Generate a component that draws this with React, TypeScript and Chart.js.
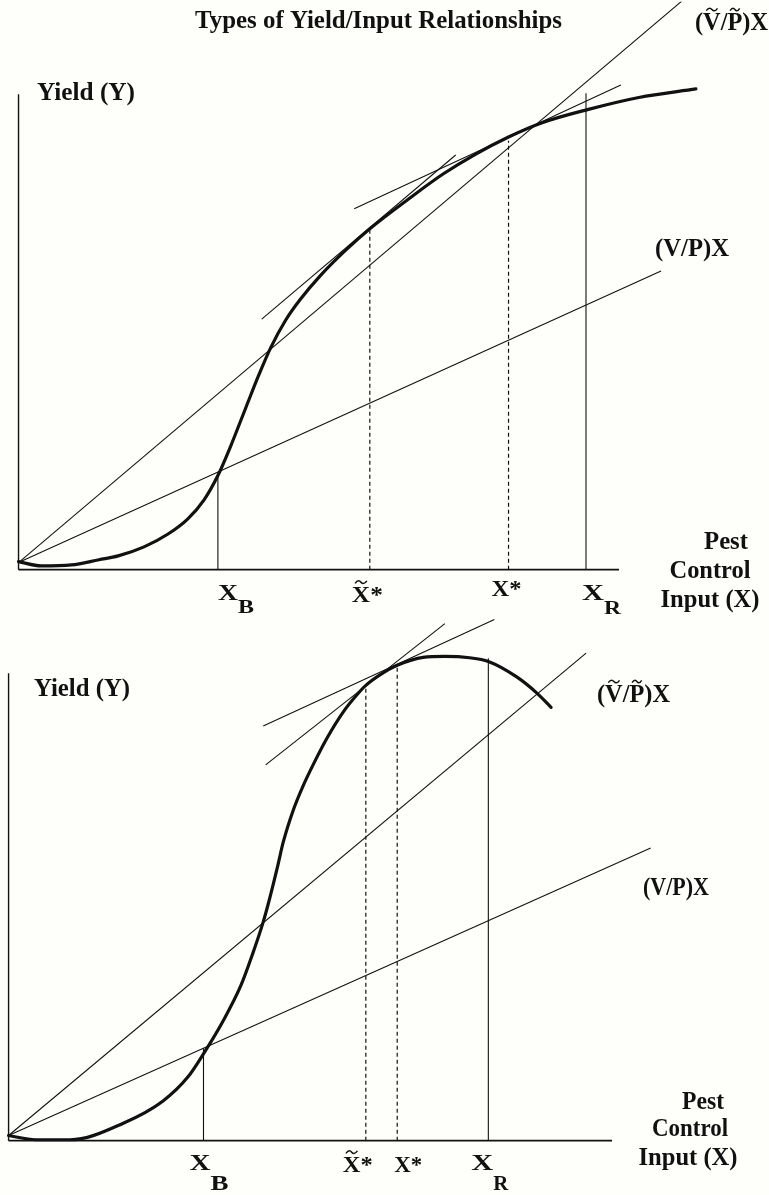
import React, { useEffect, useRef } from 'react';
import { Chart, registerables } from 'chart.js';

Chart.register(...registerables);

// ---------------- Data (abstract units: input X 0..100, yield Y 0..100 along the drawn axes) ----------------
const AXIS_X = [0, 100];
const AXIS_Y = [0, 100];

// Upper panel: yield rises and levels off
const TOP_CURVE_X = [0, 3.8, 8.8, 13.4, 16.6, 20.9, 24.9, 28.2, 30.9, 33.2, 35.3, 37.8, 40.0, 42.0, 44.4, 46.9, 50.3, 54.4, 58.5, 65.0, 70.7, 76.0, 81.6, 87.2, 94.9, 103.3, 112.8];
const TOP_CURVE_Y = [1.7, 0.8, 1.0, 2.1, 2.9, 4.8, 7.5, 10.7, 14.7, 19.8, 25.9, 33.9, 40.9, 46.7, 52.3, 56.8, 61.9, 67.1, 71.7, 78.0, 83.2, 87.3, 91.0, 94.0, 96.8, 99.3, 101.1];
const TOP_VP_X = [0, 107.0];
const TOP_VP_Y = [1.5, 62.8];
const TOP_VPT_X = [0, 110.4];
const TOP_VPT_Y = [1.5, 119.5];
const TOP_TAN_STEEP_X = [40.5, 72.8];
const TOP_TAN_STEEP_Y = [52.7, 87.2];
const TOP_TAN_SHALLOW_X = [55.9, 100.3];
const TOP_TAN_SHALLOW_Y = [75.9, 101.9];
const TOP_MARKS_X = [33.2, 58.5, 81.6, 94.5]; // X_B, X~*, X*, X_R
const TOP_MARKS_TOP = [20.2, 71.5, 90.2, 100.2];

// Lower panel: yield peaks and then declines
const BOT_CURVE_X = [0, 4.5, 10.2, 19.1, 25.6, 29.7, 32.5, 35.5, 38.5, 40.4, 42.2, 43.1, 44.6, 45.5, 47.2, 48.7, 50.5, 52.8, 55.5, 57.8, 59.2, 61.6, 64.4, 68.7, 72.3, 76.4, 79.5, 84.2, 87.5, 89.9];
const BOT_CURVE_Y = [1.1, 0.2, 0.2, 3.8, 8.5, 13.6, 19.0, 25.5, 33.2, 39.8, 46.8, 51.0, 58.8, 63.8, 70.8, 75.6, 80.5, 86.2, 91.8, 95.5, 97.4, 99.7, 101.7, 103.4, 103.6, 103.3, 102.5, 99.2, 95.8, 92.7];
const BOT_VP_X = [0, 106.4];
const BOT_VP_Y = [1.1, 62.6];
const BOT_VPT_X = [0, 95.7];
const BOT_VPT_Y = [1.1, 104.3];
const BOT_TAN_STEEP_X = [42.6, 72.3];
const BOT_TAN_STEEP_Y = [80.4, 110.6];
const BOT_TAN_SHALLOW_X = [42.2, 80.5];
const BOT_TAN_SHALLOW_Y = [88.7, 111.5];
const BOT_MARKS_X = [32.3, 59.2, 64.4, 79.5];
const BOT_MARKS_TOP = [19.8, 97.3, 101.6, 103.2];

const MARK_LABELS = ['X_B', 'X\u0303*', 'X*', 'X_R'];
const MARK_DASHED = [false, true, true, false];

const TITLE = 'Types of Yield/Input Relationships';
const Y_LABEL = 'Yield (Y)';
const X_LABEL_LINES = ['Pest', 'Control', 'Input (X)'];
const LINE_VP_LABEL = '(V/P)X';
const LINE_VPT_LABEL = '(V\u0303/P\u0303)X';

// ---------------- Drawing helpers ----------------
const FONT_FAMILY = '"Liberation Serif", "Times New Roman", Times, serif';
const INK = '#111';

type Txt = { text: string; x: number; y: number; size: number; weight?: string; width?: number; align?: 'left' | 'center' };

function drawTilde(ctx: CanvasRenderingContext2D, cx: number, ty: number, hw: number) {
  ctx.beginPath();
  ctx.moveTo(cx - hw, ty + 1.2);
  ctx.bezierCurveTo(cx - hw * 0.55, ty - 2.6, cx - hw * 0.2, ty - 1.4, cx, ty);
  ctx.bezierCurveTo(cx + hw * 0.2, ty + 1.4, cx + hw * 0.55, ty + 2.6, cx + hw, ty - 1.2);
  ctx.stroke();
}

function drawText(ctx: CanvasRenderingContext2D, t: Txt): number {
  let plain = '';
  const tildeAt: number[] = [];
  for (const ch of t.text) {
    if (ch === '\u0303') tildeAt.push(plain.length - 1);
    else plain += ch;
  }
  ctx.save();
  ctx.font = `${t.weight || 'bold'} ${t.size}px ${FONT_FAMILY}`;
  const w = ctx.measureText(plain).width;
  const sx = t.width ? t.width / w : 1;
  const left = t.align === 'center' ? t.x - (w * sx) / 2 : t.x;
  ctx.translate(left, t.y);
  ctx.scale(sx, 1);
  ctx.fillStyle = INK;
  ctx.strokeStyle = INK;
  ctx.textAlign = 'left';
  ctx.textBaseline = 'alphabetic';
  ctx.fillText(plain, 0, 0);
  ctx.lineWidth = 1.5;
  for (const i of tildeAt) {
    const pre = ctx.measureText(plain.slice(0, i)).width;
    const cw = ctx.measureText(plain[i]).width;
    drawTilde(ctx, pre + cw / 2, -t.size * 0.66 - 4, cw * 0.32);
  }
  ctx.restore();
  return w * sx;
}

type TickSpec = { dx: number; base: number; size: number; w: number; subBase?: number; subSize?: number; subW?: number };

type Panel = {
  layout: { originX: number; originY: number; pxPerX: number; pxPerY: number; width: number; height: number };
  curveX: number[]; curveY: number[];
  vpX: number[]; vpY: number[];
  vptX: number[]; vptY: number[];
  steepX: number[]; steepY: number[];
  shallowX: number[]; shallowY: number[];
  marksX: number[]; marksTop: number[];
  texts: Txt[];
  ticks: TickSpec[];
};

const TOP_PANEL: Panel = {
  layout: { originX: 17, originY: 571, pxPerX: 6.03, pxPerY: 4.78, width: 769, height: 630 },
  curveX: TOP_CURVE_X, curveY: TOP_CURVE_Y,
  vpX: TOP_VP_X, vpY: TOP_VP_Y,
  vptX: TOP_VPT_X, vptY: TOP_VPT_Y,
  steepX: TOP_TAN_STEEP_X, steepY: TOP_TAN_STEEP_Y,
  shallowX: TOP_TAN_SHALLOW_X, shallowY: TOP_TAN_SHALLOW_Y,
  marksX: TOP_MARKS_X, marksTop: TOP_MARKS_TOP,
  texts: [
    { text: TITLE, x: 378.5, y: 28, size: 25, weight: 'bold', width: 367, align: 'center' },
    { text: LINE_VPT_LABEL, x: 695, y: 30, size: 25, width: 73, align: 'left' },
    { text: Y_LABEL, x: 37, y: 100, size: 25, width: 98, align: 'left' },
    { text: LINE_VP_LABEL, x: 655, y: 256, size: 25, width: 74, align: 'left' },
    { text: X_LABEL_LINES[0], x: 726, y: 549, size: 25, width: 44, align: 'center' },
    { text: X_LABEL_LINES[1], x: 710, y: 578, size: 25, width: 81, align: 'center' },
    { text: X_LABEL_LINES[2], x: 710, y: 607, size: 25, width: 99, align: 'center' },
  ],
  ticks: [
    { dx: 0, base: 600, size: 24, w: 20, subBase: 613, subSize: 19, subW: 16 },
    { dx: -18, base: 602, size: 24, w: 31 },
    { dx: -17, base: 596, size: 24, w: 30 },
    { dx: -4, base: 600, size: 24, w: 22, subBase: 614, subSize: 19, subW: 17 },
  ],
};

const BOTTOM_PANEL: Panel = {
  layout: { originX: 7, originY: 542, pxPerX: 6.06, pxPerY: 4.7, width: 769, height: 595 },
  curveX: BOT_CURVE_X, curveY: BOT_CURVE_Y,
  vpX: BOT_VP_X, vpY: BOT_VP_Y,
  vptX: BOT_VPT_X, vptY: BOT_VPT_Y,
  steepX: BOT_TAN_STEEP_X, steepY: BOT_TAN_STEEP_Y,
  shallowX: BOT_TAN_SHALLOW_X, shallowY: BOT_TAN_SHALLOW_Y,
  marksX: BOT_MARKS_X, marksTop: BOT_MARKS_TOP,
  texts: [
    { text: Y_LABEL, x: 34, y: 96, size: 25, width: 96, align: 'left' },
    { text: LINE_VPT_LABEL, x: 597, y: 102, size: 25, width: 73, align: 'left' },
    { text: LINE_VP_LABEL, x: 643, y: 295, size: 25, width: 66, align: 'left' },
    { text: X_LABEL_LINES[0], x: 703, y: 509, size: 25, width: 42, align: 'center' },
    { text: X_LABEL_LINES[1], x: 690, y: 536, size: 25, width: 76, align: 'center' },
    { text: X_LABEL_LINES[2], x: 688, y: 565, size: 25, width: 99, align: 'center' },
  ],
  ticks: [
    { dx: -14, base: 570, size: 24, w: 21, subBase: 590, subSize: 22, subW: 18 },
    { dx: -23, base: 572, size: 24, w: 30 },
    { dx: -3, base: 572, size: 24, w: 28 },
    { dx: -17, base: 570, size: 24, w: 22, subBase: 590, subSize: 22, subW: 15 },
  ],
};

function buildChart(canvas: HTMLCanvasElement, p: Panel) {
  const L = p.layout;
  const xmin = -L.originX / L.pxPerX;
  const xmax = xmin + L.width / L.pxPerX;
  const ymax = L.originY / L.pxPerY;
  const ymin = ymax - L.height / L.pxPerY;
  const pts = (xs: number[], ys: number[]) => xs.map((x, i) => ({ x, y: ys[i] }));
  const seg = (xs: number[], ys: number[], extra: any = {}) => ({
    data: pts(xs, ys),
    borderColor: INK,
    borderWidth: 1.1,
    pointRadius: 0,
    tension: 0,
    fill: false,
    ...extra,
  });
  const datasets: any[] = [
    seg(AXIS_X, [0, 0], { borderWidth: 1.7 }),
    seg([0, 0], AXIS_Y, { borderWidth: 1.4 }),
    seg(p.vpX, p.vpY),
    seg(p.vptX, p.vptY),
    seg(p.steepX, p.steepY),
    seg(p.shallowX, p.shallowY),
    ...p.marksX.map((x, i) =>
      seg([x, x], [0, p.marksTop[i]], MARK_DASHED[i] ? { borderDash: [4, 3], borderWidth: 1.2 } : { borderWidth: 1.1 })
    ),
    seg(p.curveX, p.curveY, { borderWidth: 3.2, cubicInterpolationMode: 'monotone', borderCapStyle: 'round', borderJoinStyle: 'round' }),
  ];

  const labelPlugin = {
    id: 'panelLabels',
    afterDraw(chart: any) {
      const ctx = chart.ctx as CanvasRenderingContext2D;
      const xs = chart.scales.x;
      p.texts.forEach((t) => drawText(ctx, t));
      MARK_LABELS.forEach((label, i) => {
        const spec = p.ticks[i];
        const px = xs.getPixelForValue(p.marksX[i]);
        const [main, sub] = label.split('_');
        const w = drawText(ctx, { text: main, x: px + spec.dx, y: spec.base, size: spec.size, width: spec.w, align: 'left' });
        if (sub) {
          drawText(ctx, { text: sub, x: px + spec.dx + w, y: spec.subBase!, size: spec.subSize!, width: spec.subW, align: 'left' });
        }
      });
    },
  };

  return new Chart(canvas, {
    type: 'line',
    data: { datasets },
    options: {
      responsive: false,
      animation: false,
      events: [],
      layout: { padding: 0 },
      plugins: { legend: { display: false }, tooltip: { enabled: false } },
      scales: {
        x: { type: 'linear', display: false, min: xmin, max: xmax },
        y: { type: 'linear', display: false, min: ymin, max: ymax },
      },
    },
    plugins: [labelPlugin],
  } as any);
}

export default function App() {
  const topRef = useRef<HTMLCanvasElement | null>(null);
  const botRef = useRef<HTMLCanvasElement | null>(null);

  useEffect(() => {
    document.body.style.margin = '0';
    document.body.style.background = '#fefefb';
    const c1 = buildChart(topRef.current!, TOP_PANEL);
    const c2 = buildChart(botRef.current!, BOTTOM_PANEL);
    let alive = true;
    if ((document as any).fonts && (document as any).fonts.load) {
      Promise.all([
        (document as any).fonts.load(`bold 25px "Liberation Serif"`),
        (document as any).fonts.load(`26px "Liberation Serif"`),
      ])
        .then(() => {
          if (alive) {
            c1.update('none');
            c2.update('none');
          }
        })
        .catch(() => {});
    }
    return () => {
      alive = false;
      c1.destroy();
      c2.destroy();
    };
  }, []);

  return (
    <div style={{ position: 'relative', width: 769, height: 1195, overflow: 'hidden' }}>
      <canvas
        ref={topRef}
        width={769}
        height={630}
        style={{ position: 'absolute', left: 0, top: 0, width: 769, height: 630 }}
      />
      <canvas
        ref={botRef}
        width={769}
        height={595}
        style={{ position: 'absolute', left: 0, top: 600, width: 769, height: 595 }}
      />
    </div>
  );
}
